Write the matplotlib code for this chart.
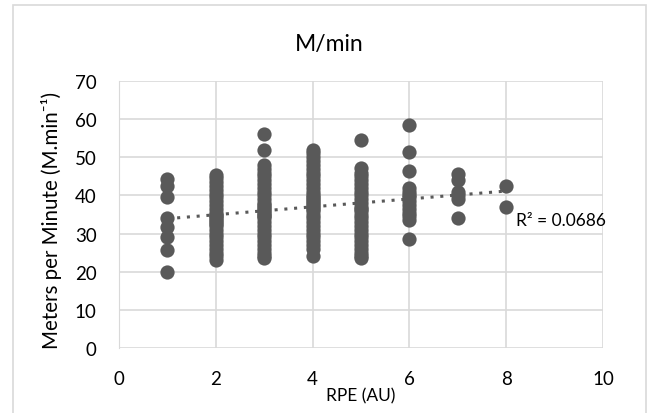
import numpy as np
import matplotlib
matplotlib.use("Agg")
import matplotlib.pyplot as plt

plt.rcParams['font.family'] = ['Lato', 'DejaVu Sans']

# meters per minute by RPE
rpe_1 = [44.3, 42.5, 39.6, 34.0, 31.8, 29.0, 25.8, 20.0]
rpe_2 = [45.3, 44.5, 43.5, 42.5, 41.5, 40.5, 39.5, 38.5, 37.5, 36.5, 35.5,
         35.0, 34.5, 34.0, 33.5, 33.0, 32.5, 32.0, 31.0, 30.0, 29.0, 28.0,
         27.0, 26.0, 25.0, 24.0, 23.0]
rpe_3 = [56.0, 52.0, 48.0, 47.0, 46.0, 45.0, 44.0, 43.0, 42.0, 41.0, 40.0,
         39.0, 38.0, 37.5, 37.0, 36.5, 36.0, 35.5, 35.0, 34.5, 34.0, 33.0,
         32.0, 31.0, 30.0, 29.0, 28.0, 27.0, 26.0, 25.0, 24.0, 23.5]
rpe_4 = [52.0, 51.0, 50.0, 49.0, 48.0, 47.0, 46.0, 45.0, 44.0, 43.0, 42.0,
         41.0, 40.0, 39.5, 39.0, 38.5, 38.0, 37.5, 37.0, 36.5, 36.0, 35.0,
         34.0, 33.0, 32.0, 31.0, 30.0, 29.0, 28.0, 27.0, 26.0, 24.0]
rpe_5 = [54.5, 47.2, 46.0, 45.0, 44.0, 43.0, 42.0, 41.0, 40.0, 39.0, 38.0,
         37.0, 36.5, 36.0, 35.0, 34.0, 33.0, 32.0, 31.0, 30.0, 29.0, 28.0,
         27.0, 26.0, 25.0, 24.0, 23.5]
rpe_6 = [58.5, 51.5, 46.5, 42.0, 41.0, 40.0, 39.5, 38.5, 37.5, 36.5, 35.5,
         34.5, 33.5, 28.5]
rpe_7 = [45.5, 44.0, 41.0, 40.0, 39.0, 34.2]
rpe_8 = [42.5, 37.0]

groups = {1: rpe_1, 2: rpe_2, 3: rpe_3, 4: rpe_4, 5: rpe_5, 6: rpe_6,
          7: rpe_7, 8: rpe_8}
r2_text = "R\u00b2 = 0.0686"

xs = np.concatenate([[k] * len(v) for k, v in groups.items()]).astype(float)
ys = np.concatenate([v for v in groups.values()])

fig = plt.figure(figsize=(6.52, 4.14), dpi=100)
ax = fig.add_axes([119 / 652, 1 - 349 / 414, 484 / 652, 267 / 414])

grey = "#595959"
ax.scatter(xs, ys, s=105, color=grey, zorder=3, linewidths=0)

slope, intercept = np.polyfit(xs, ys, 1)
tx = np.array([xs.min(), xs.max()])
ax.plot(tx, intercept + slope * tx, linestyle=(0, (1, 2.2)), color=grey,
        linewidth=2.2, zorder=4)
ax.text(8.2, intercept + slope * 8 - 8.8, r2_text, fontsize=12.5,
        color="black")

ax.set_xlim(0, 10)
ax.set_ylim(0, 70)
ax.set_xticks(range(0, 11, 2))
ax.set_yticks(range(0, 71, 10))
ax.grid(True, color="#d9d9d9", linewidth=1.2)
ax.set_axisbelow(True)
for side in ["top", "right", "bottom"]:
    ax.spines[side].set_visible(False)
ax.spines["left"].set_color("#d9d9d9")
ax.tick_params(axis="y", length=0, labelsize=13.5, pad=16)
ax.tick_params(axis="x", length=0, labelsize=13.5, pad=16)

fig.text(329.5 / 652, 1 - 45 / 414, "M/min", fontsize=16.5,
         ha="center", va="center")
ax.set_xlabel("RPE (AU)", fontsize=12.5, labelpad=0)
ax.set_ylabel("Meters per Minute (M.min\u207b\u00b9)", fontsize=14.8,
              labelpad=6)
ax.yaxis.set_label_coords(-0.118, 0.48)

fig.patches.append(plt.Rectangle((13 / 652, -0.05), 633 / 652, 1.035,
                                 transform=fig.transFigure, fill=False,
                                 edgecolor="#d9d9d9", linewidth=1.2))

fig.savefig("out.png", dpi=100)
